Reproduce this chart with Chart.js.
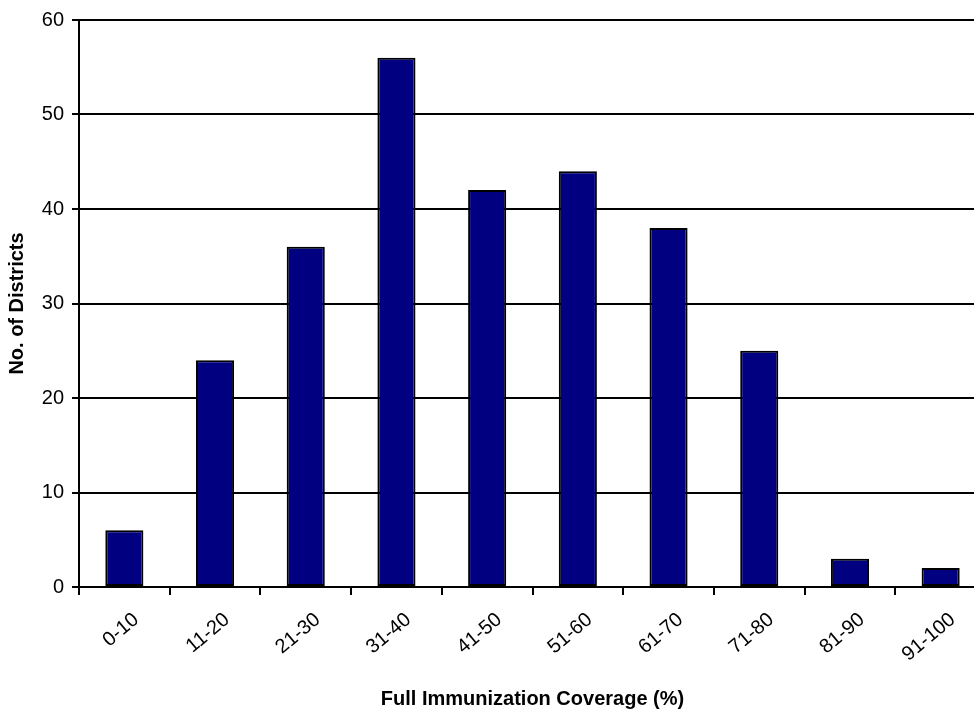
<!DOCTYPE html>
<html>
<head>
<meta charset="utf-8">
<script src="https://cdn.jsdelivr.net/npm/chart.js@4"></script>
<style>
  html, body { margin: 0; padding: 0; overflow: hidden; background: #ffffff; }
  #wrap { position: relative; width: 986px; height: 713px; }
</style>
</head>
<body>
<div id="wrap"><canvas id="chart"></canvas></div>
<script>
// Coverage bands (%) and number of districts in each band
const coverageBands = ['0-10', '11-20', '21-30', '31-40', '41-50', '51-60', '61-70', '71-80', '81-90', '91-100'];
const districtCounts = [6, 24, 36, 56, 42, 44, 38, 25, 3, 2];
const countTicks = [0, 10, 20, 30, 40, 50, 60];

const FONT = "'Liberation Sans', Arial, Helvetica, sans-serif";

new Chart(document.getElementById('chart'), {
  type: 'bar',
  data: {
    labels: coverageBands,
    datasets: [{
      data: districtCounts,
      backgroundColor: '#000080',
      borderColor: '#000000',
      borderWidth: 2,
      borderSkipped: false,
      categoryPercentage: 1.0,
      barPercentage: 0.42
    }]
  },
  options: {
    responsive: true,
    maintainAspectRatio: false,
    animation: false,
    layout: { padding: { top: 17, right: 0, bottom: 0, left: 0 } },
    plugins: { legend: { display: false }, tooltip: { enabled: false } },
    scales: {
      x: {
        offset: true,
        grid: {
          offset: true,
          drawOnChartArea: false,
          drawTicks: true,
          tickLength: 8,
          color: '#000000',
          lineWidth: 2
        },
        border: { display: true, color: '#000000', width: 2 },
        ticks: {
          color: '#000000',
          font: { family: FONT, size: 20 },
          minRotation: 40,
          maxRotation: 40,
          autoSkip: false,
          labelOffset: 12,
          padding: 13
        },
        title: {
          display: true,
          text: 'Full Immunization Coverage (%)',
          color: '#000000',
          font: { family: FONT, size: 20, weight: 'bold' },
          padding: { top: 0, bottom: 2 }
        },
        afterFit: (scale) => { scale.height = 126; }
      },
      y: {
        min: countTicks[0],
        max: countTicks[countTicks.length - 1],
        afterBuildTicks: (scale) => { scale.ticks = countTicks.map(v => ({ value: v })); },
        grid: {
          color: '#000000',
          lineWidth: 2,
          drawTicks: true,
          tickLength: 7
        },
        border: { display: true, color: '#000000', width: 2 },
        ticks: {
          color: '#000000',
          font: { family: FONT, size: 20 },
          padding: 8
        },
        title: {
          display: true,
          text: 'No. of Districts',
          color: '#000000',
          font: { family: FONT, size: 20, weight: 'bold' },
          padding: { top: 5, bottom: 0 }
        },
        afterFit: (scale) => { scale.width = 79; }
      }
    }
  }
});
</script>
</body>
</html>
